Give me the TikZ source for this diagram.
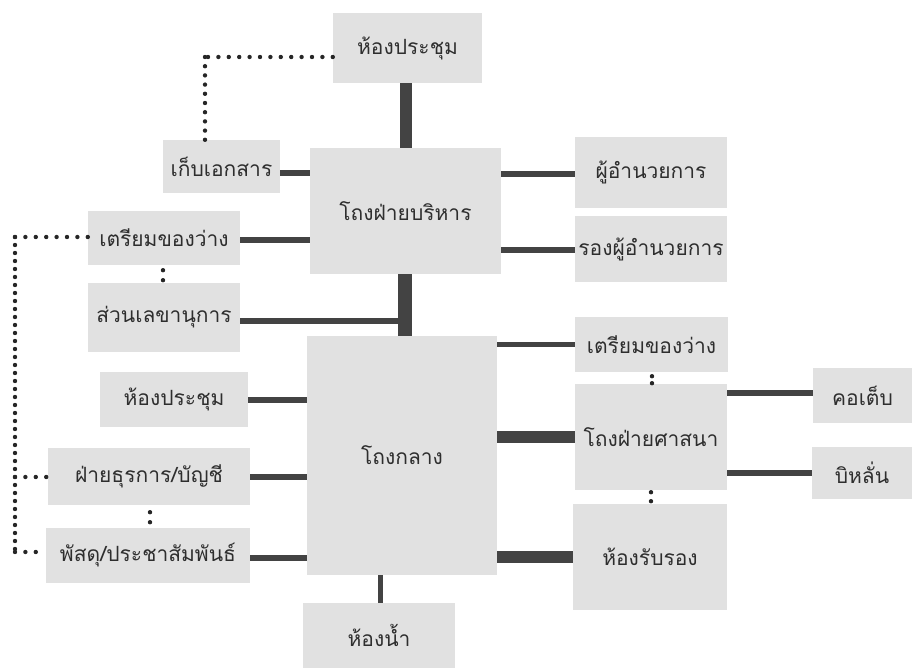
\documentclass[tikz,border=0pt]{standalone}
\usepackage{fontspec}
\newfontfamily\thaifont[Script=Thai]{Loma}
\definecolor{boxgray}{HTML}{E1E1E1}
\definecolor{linegray}{HTML}{434343}
\definecolor{txtgray}{HTML}{2E2E2E}
\begin{document}
\begin{tikzpicture}[x=1pt,y=-1pt,
  box/.style={fill=boxgray, inner sep=0pt, text=txtgray, font=\thaifont\fontsize{21}{24}\selectfont},
  conn/.style={draw=linegray, line width=6pt},
  connthick/.style={draw=linegray, line width=12pt},
  dotsh/.style={draw=black!85, line width=4.4pt, line cap=round, dash pattern=on 0pt off 10.4pt},
  dotsv/.style={draw=black!85, line width=4.4pt, line cap=round, dash pattern=on 0pt off 8pt}]
\useasboundingbox (0,0) rectangle (912,668);
\fill[white] (0,0) rectangle (912,668);
% boxes
\node[box, minimum width=149pt, minimum height=70pt] (hmT) at (407.5,48) {ห้องประชุม};
\node[box, minimum width=117pt, minimum height=53pt] (kep) at (221.5,166.5) {เก็บเอกสาร};
\node[box, minimum width=191pt, minimum height=126pt] (bor) at (405.5,211) {โถงฝ่ายบริหาร};
\node[box, minimum width=152pt, minimum height=71pt] (pu) at (651,172.5) {ผู้อำนวยการ};
\node[box, minimum width=152pt, minimum height=66pt] (rong) at (651,249) {รองผู้อำนวยการ};
\node[box, minimum width=152pt, minimum height=54pt] (triamL) at (164,238) {เตรียมของว่าง};
\node[box, minimum width=152pt, minimum height=69pt] (suan) at (164,317.5) {ส่วนเลขานุการ};
\node[box, minimum width=148pt, minimum height=55pt] (hmL) at (174,399.5) {ห้องประชุม};
\node[box, minimum width=202pt, minimum height=57pt] (tura) at (149,476.5) {ฝ่ายธุรการ/บัญชี};
\node[box, minimum width=204pt, minimum height=55pt] (pasadu) at (148,555.5) {พัสดุ/ประชาสัมพันธ์};
\node[box, minimum width=190pt, minimum height=239pt] (klang) at (402,455.5) {โถงกลาง};
\node[box, minimum width=152pt, minimum height=65pt] (nam) at (379,635.5) {ห้องน้ำ};
\node[box, minimum width=153pt, minimum height=55pt] (triamR) at (651.5,344.5) {เตรียมของว่าง};
\node[box, minimum width=152pt, minimum height=106pt] (sasana) at (651,437) {โถงฝ่ายศาสนา};
\node[box, minimum width=154pt, minimum height=106pt] (rabrong) at (650,557) {ห้องรับรอง};
\node[box, minimum width=99pt, minimum height=55pt] (kotep) at (862.5,395.5) {คอเต็บ};
\node[box, minimum width=100pt, minimum height=52pt] (bilan) at (862,472.5) {บิหลั่น};
% solid connectors
\draw[connthick] (hmT.south -| 406,0) -- (bor.north -| 406,0);
\draw[conn] (kep.east |- 0,173) -- (bor.west |- 0,173);
\draw[conn] (bor.east |- 0,174) -- (pu.west |- 0,174);
\draw[conn] (bor.east |- 0,250) -- (rong.west |- 0,250);
\draw[conn] (triamL.east |- 0,240) -- (bor.west |- 0,240);
\draw[draw=linegray, line width=14pt] (bor.south -| 404.5,0) -- (klang.north -| 404.5,0);
\coordinate (jn) at (404.5,321);
\draw[conn] (suan.east |- 0,321) -- (jn);
\draw[conn] (hmL.east |- 0,400) -- (klang.west |- 0,400);
\draw[conn] (tura.east |- 0,477) -- (klang.west |- 0,477);
\draw[conn] (pasadu.east |- 0,558) -- (klang.west |- 0,558);
\draw[draw=linegray, line width=5pt] (klang.south -| 380,0) -- (nam.north -| 380,0);
\draw[draw=linegray, line width=5pt] (klang.east |- 0,344) -- (triamR.west |- 0,344);
\draw[connthick] (klang.east |- 0,437) -- (sasana.west |- 0,437);
\draw[connthick] (klang.east |- 0,557) -- (rabrong.west |- 0,557);
\draw[conn] (sasana.east |- 0,393) -- (kotep.west |- 0,393);
\draw[conn] (sasana.east |- 0,473) -- (bilan.west |- 0,473);
% dotted connectors
\draw[dotsh] (hmT.west |- 0,57) -- (205,57);
\draw[dotsh, dash pattern=on 0pt off 9.2pt] (205,57) -- (kep.north -| 205,0);
\draw[dotsh] (triamL.west |- 0,237) -- (15,237);
\draw[dotsv] (15,237) -- (15,552);
\draw[dotsh] (15,552) -- (pasadu.west |- 0,552);
\draw[dotsh] (15,477) -- (tura.west |- 0,477);
\draw[dotsv, dash pattern=on 0pt off 10pt, dash phase=5pt] (triamL.south -| 163,0) -- (suan.north -| 163,0);
\draw[dotsv, dash pattern=on 0pt off 10pt, dash phase=3pt] (tura.south -| 150,0) -- (pasadu.north -| 150,0);
\draw[dotsv, dash pattern=on 0pt off 7pt, dash phase=3pt] (triamR.south -| 652,0) -- (sasana.north -| 652,0);
\draw[dotsv, dash pattern=on 0pt off 9pt, dash phase=7pt] (sasana.south -| 651,0) -- (rabrong.north -| 651,0);
\end{tikzpicture}
\end{document}
